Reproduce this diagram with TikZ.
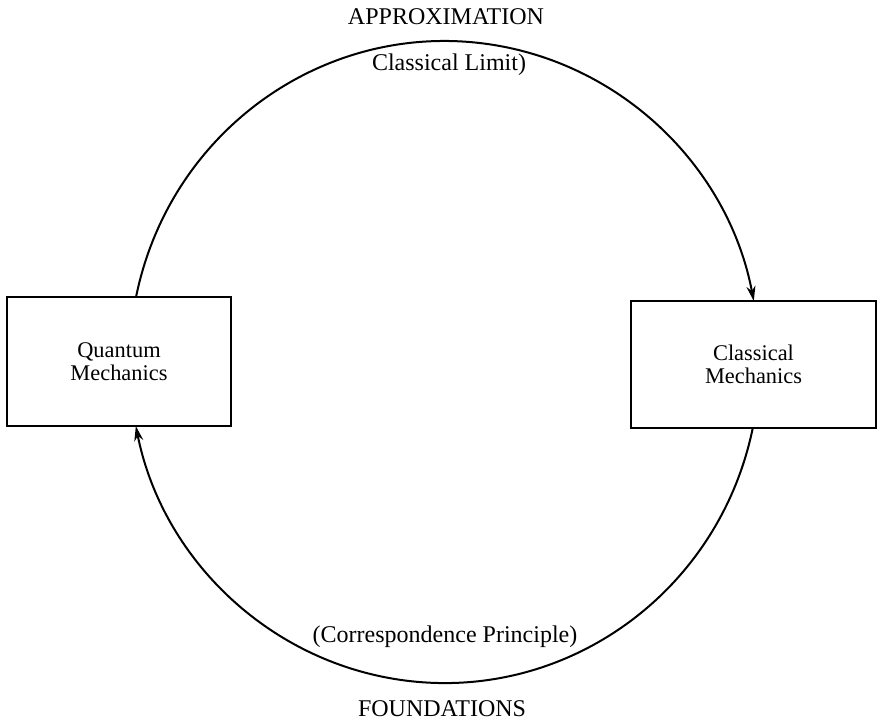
\documentclass[tikz,border=0pt]{standalone}
\usepackage{fontspec}
\setmainfont{Liberation Serif}
\usetikzlibrary{arrows.meta, calc}
\tikzstyle{box} = [draw, rectangle, line width=1pt, align=center, inner sep=0pt, font=\fontsize{11.2}{11.5}\selectfont]
\tikzstyle{caption} = [inner sep=0pt, anchor=center, font=\fontsize{12}{14}\selectfont]
\tikzstyle{arrow} = [line width=1pt, ->, >={Stealth[length=7.5pt, width=4.5pt]}]

\begin{document}
\begin{tikzpicture}[x=0.5pt, y=-0.5pt]
    \useasboundingbox (0,0) rectangle (881,720);
    % Nodes
    \node (qm) [box, minimum width=112pt, minimum height=64.5pt] at (119,361.5) {Quantum\\Mechanics};
    \node (cm) [box, minimum width=122.5pt, minimum height=63.5pt] at (753.5,364.5) {Classical\\Mechanics};
    \coordinate (c) at (444.5,362);

    % Labels
    \node (approx) [caption] at (446,17) {APPROXIMATION};
    \node (limit) [caption] at (449,65) {Classical Limit)};
    \node (corr) [caption] at (445,637) {(Correspondence Principle)};
    \node (found) [caption] at (442,709) {FOUNDATIONS};

    % Arcs
    \draw [arrow] ($(c)+(168.3:157.5pt and 160.5pt)$) arc[start angle=168.3, end angle=10.95, x radius=157.5pt, y radius=160.5pt];
    \draw [arrow] ($(c)+(-11.87:157.5pt and 160.5pt)$) arc[start angle=-11.87, end angle=-168.5, x radius=157.5pt, y radius=160.5pt];
\end{tikzpicture}
\end{document}
